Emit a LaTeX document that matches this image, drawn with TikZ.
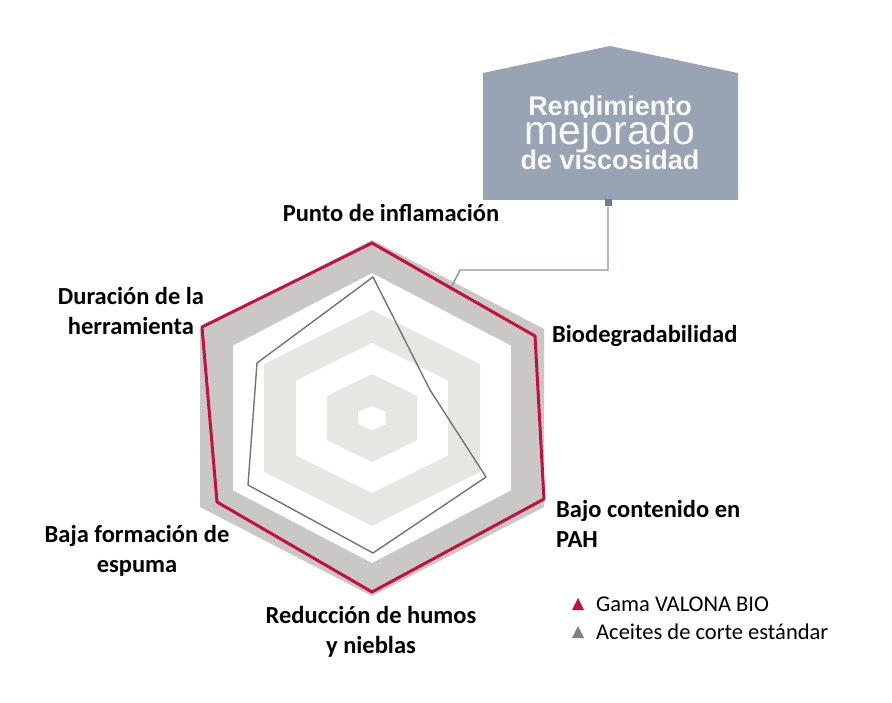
\documentclass[tikz,border=0pt]{standalone}
\usepackage{fontspec}
\setmainfont{Carlito}
\newfontfamily\boxfont{Liberation Sans}
\begin{document}
\begin{tikzpicture}[x=1pt,y=-1pt,
  lbl/.style={font=\bfseries\fontsize{24.5}{30}\selectfont,align=center,inner sep=0pt},
  leg/.style={font=\fontsize{22.5}{26}\selectfont,anchor=west,inner sep=0pt},
  bt/.style={text=white!95!gray,inner sep=0pt}]
\definecolor{band1}{HTML}{C9C8C6}
\definecolor{band2}{HTML}{E7E6E2}
\definecolor{redl}{HTML}{C4103D}
\definecolor{boxc}{HTML}{98A4B3}
\definecolor{linec}{HTML}{8393A6}
\useasboundingbox (0,0) rectangle (892,703);
\def\hex#1#2{(372,418-#1) -- (372+#2,418-#1/2) -- (372+#2,418+#1/2) -- (372,418+#1) -- (372-#2,418+#1/2) -- (372-#2,418-#1/2) -- cycle}
\fill[band1,even odd rule] \hex{178}{172} \hex{145}{139};
\fill[band2,even odd rule] \hex{108}{108} \hex{75}{76};
\fill[band2,even odd rule] \hex{44}{45} \hex{12}{14};
% series
\coordinate (g1) at (373,277); \coordinate (g2) at (430,390); \coordinate (g3) at (486,477);
\coordinate (g4) at (373,553); \coordinate (g5) at (248,485); \coordinate (g6) at (257,363);
\draw[gray!90!black,line width=1.4pt,line join=round] (g1)--(g2)--(g3)--(g4)--(g5)--(g6)--cycle;
\coordinate (r1) at (372,243); \coordinate (r2) at (535,336); \coordinate (r3) at (544,499);
\coordinate (r4) at (372,592); \coordinate (r5) at (217,502); \coordinate (r6) at (202,327);
\draw[redl,line width=3pt,line join=round] (r1)--(r2)--(r3)--(r4)--(r5)--(r6)--cycle;
% callout
\fill[boxc] (483,73) -- (610,46) -- (738,73) -- (738,200) -- (483,200) -- cycle;
\node[bt,font=\boxfont\bfseries\fontsize{27}{30}\selectfont] (b1) at (610,106) {Rendimiento};
\node[bt,font=\boxfont\fontsize{41}{44}\selectfont] (b2) at (610,134) {mejorado};
\node[bt,font=\boxfont\bfseries\fontsize{27}{30}\selectfont] (b3) at (610,160) {de viscosidad};
\node[fill=linec!85!black,minimum size=7pt,inner sep=0pt] (sq) at (608,203) {};
\coordinate (c1) at (608,270); \coordinate (c2) at (460,270); \coordinate (c3) at (452,286);
\draw[linec,line width=1.4pt] (sq) -- (c1) -- (c2) -- (c3);
% labels
\node[lbl] (l1) at (391,213) {Punto de inflamación};
\node[lbl,anchor=west] (l2) at (552,336) {Biodegradabilidad};
\node[lbl] (l6) at (131,311) {Duración de la\\herramienta};
\node[lbl,align=left,anchor=west] (l3) at (556,524) {Bajo contenido en\\PAH};
\node[lbl] (l5) at (137,551) {Baja formación de\\espuma};
\node[lbl] (l4) at (371,632) {Reducción de humos\\y nieblas};
% legend
\fill[redl] (572,610) -- (584,610) -- (578,598) -- cycle;
\fill[gray] (572,638) -- (584,638) -- (578,626) -- cycle;
\node[leg] (lg1) at (596,604) {Gama VALONA BIO};
\node[leg] (lg2) at (596,632) {Aceites de corte estándar};
\end{tikzpicture}
\end{document}
